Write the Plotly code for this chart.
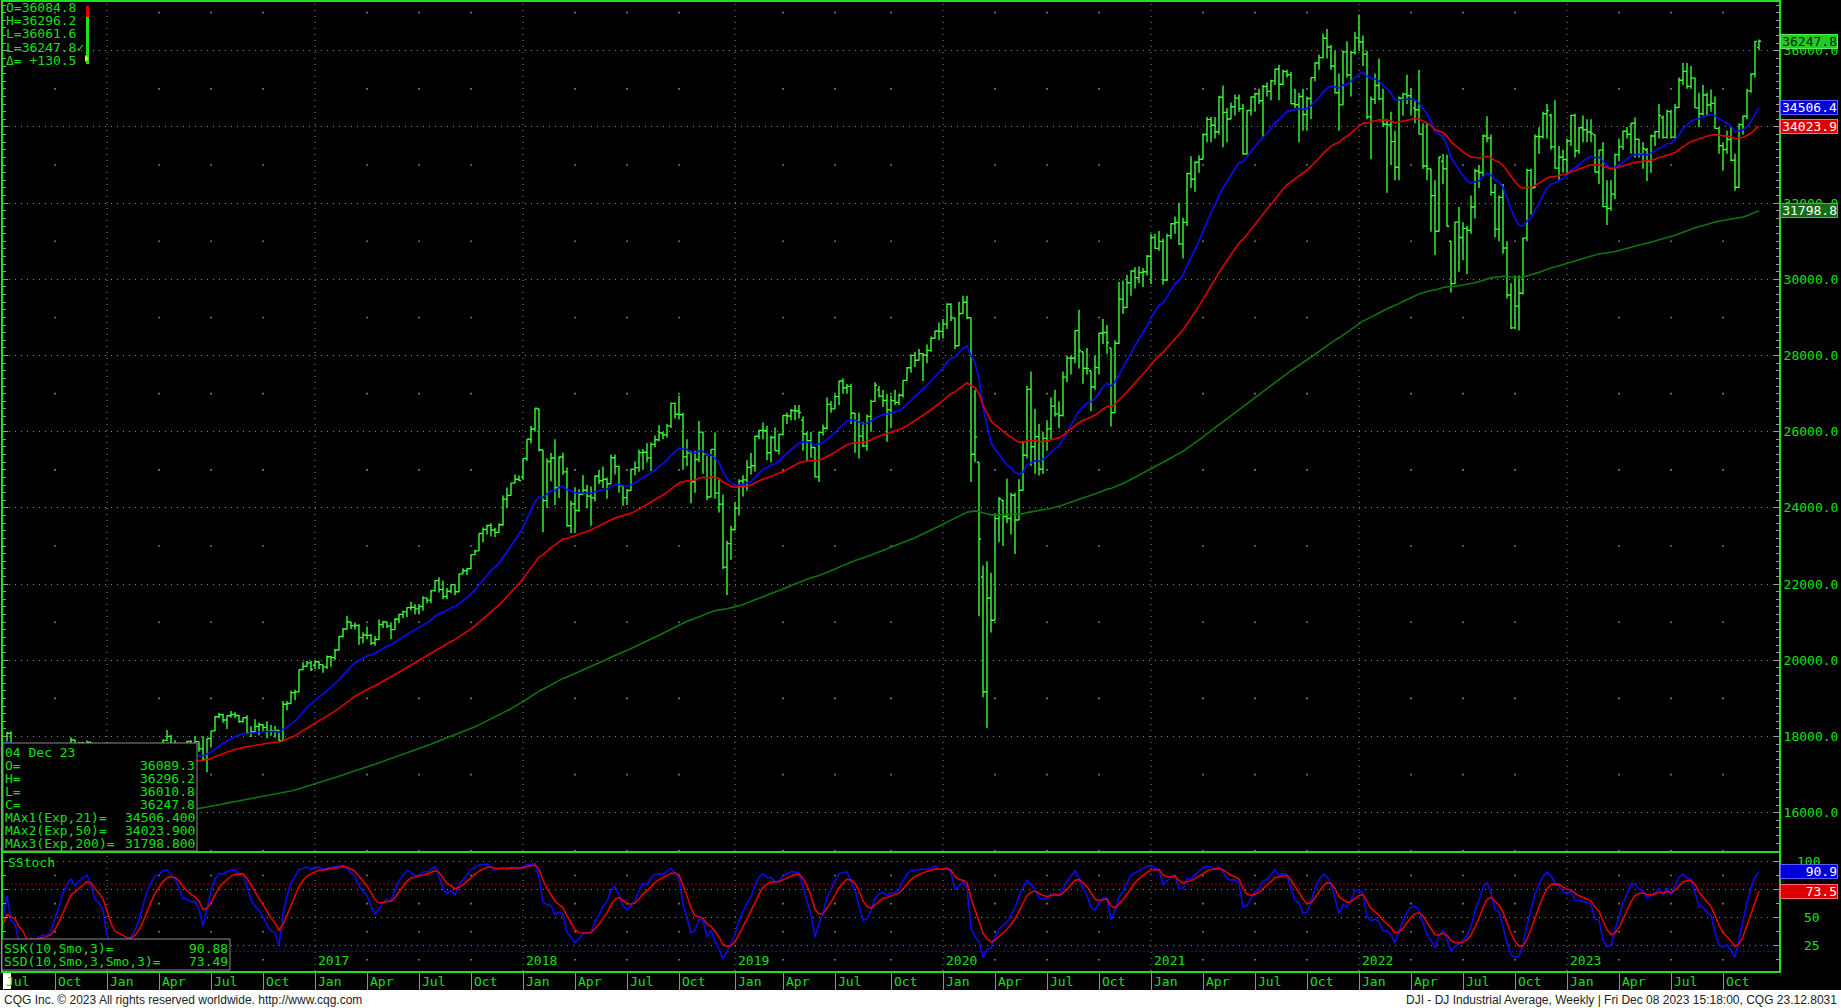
import numpy as np
import pandas as pd
import plotly.graph_objects as go

W, H = 1841, 1008

# ---------------- DATA (weekly DJI bars) ----------------
first_week = "2015-06-29"

opens = [
    # 2015
    17947, 17730, 17760, 18086, 17568, 17690, 17373, 17477, 16460, 16643, 16102, 16433, 16385, 16315, 16472, 17084,
    17216, 17646, 17664, 17910, 17245, 17824, 17798, 17848, 17265, 17128, 17552,
    # 2016
    17405, 16346, 15988, 16093, 16466, 16205, 15974, 16392, 16640, 17007, 17213, 17602, 17516, 17793, 17577, 17898,
    18004, 17774, 17740, 17535, 17501, 17873, 17807, 17865, 17675, 17400, 17949, 18147, 18517, 18571, 18432, 18544,
    18577, 18553, 18395, 18492, 18085, 18124, 18262, 18308, 18240, 18138, 18146, 18161, 17888, 18848, 18868, 19152,
    19171, 19757, 19843, 19934,
    # 2017
    19872, 19964, 19886, 19827, 20094, 20071, 20269, 20624, 20822, 21005, 20903, 20915, 20597, 20663, 20656, 20453,
    20548, 20941, 21007, 20897, 20805, 21080, 21206, 21272, 21384, 21395, 21350, 21414, 21638, 21580, 21830, 22092,
    21858, 21675, 21814, 21988, 21798, 22268, 22350, 22405, 22774, 22872, 23329, 23434, 23539, 23422, 23358, 23558,
    24231, 24329, 24652, 24754,
    # 2018
    24809, 25296, 25803, 26072, 26598, 25521, 24191, 25219, 25310, 24538, 25336, 24947, 23533, 24103, 23933, 24360,
    24463, 24311, 24263, 24831, 24715, 24753, 24635, 25317, 25090, 24581, 24271, 24456, 25019, 25058, 25451, 25463,
    25313, 25669, 25790, 25965, 25917, 26155, 26744, 26458, 26447, 25340, 25444, 24688, 25271, 25989, 25413, 24286,
    25538, 24389, 24101, 22445, 23062,
    # 2019
    23433, 23996, 24706, 24737, 25064, 25106, 25883, 26031, 26026, 25450, 25849, 25502, 25929, 26425, 26412, 26559,
    26543, 26300, 25942, 25764, 25586, 24815, 25984, 26090, 26719, 26600, 26922, 27332, 27154, 27192, 26485, 26287,
    25886, 25628, 26403, 26797, 27100, 26935, 26820, 26573, 26817, 26770, 26958, 27347, 27681, 28005, 27876, 28051,
    28015, 28135, 28455, 28645,
    # 2020
    28635, 28824, 29348, 28990, 28256, 29103, 29398, 28992, 25409, 25200, 22186, 19174, 21637, 21053, 23719, 24200,
    23775, 23724, 24331, 23685, 24465, 25383, 27111, 25606, 25871, 25016, 25827, 26075, 26672, 26470, 26428, 27433,
    27931, 27930, 28654, 28100, 27666, 27600, 27174, 27683, 28587, 28606, 28200, 26502, 28323, 29480, 29263, 29910,
    30218, 30046, 30179, 30200,
    # 2021
    30606, 31098, 30814, 30997, 29983, 31148, 31458, 31494, 30932, 31496, 32779, 32628, 33073, 33153, 33801, 34200,
    34043, 33875, 34778, 34382, 34208, 34529, 34756, 34480, 33290, 34434, 34786, 34870, 34688, 35062, 34935, 35209,
    35515, 35120, 35456, 35369, 34608, 34584, 34798, 34326, 34746, 35295, 35677, 35820, 36328, 36100, 35602, 34899,
    34580, 35971, 35365, 35951,
    # 2022
    36338, 36232, 35912, 34265, 34725, 35089, 34738, 34079, 34059, 33615, 32944, 34755, 34861, 34818, 34500, 34451,
    33811, 32977, 32899, 32197, 31262, 33100, 32899, 31000, 29888, 31501, 31097, 31338, 31288, 31899, 32845, 32803,
    33761, 33706, 32283, 31318, 32151, 30822, 29590, 28725, 29297, 29634, 31082, 32861, 32403, 33748, 33746, 34347,
    34300, 33477, 32920, 33203,
    # 2023
    33147, 33631, 34300, 33375, 33978, 33926, 33869, 33800, 32817, 33391, 31910, 31862, 32238, 33274, 33485, 33886,
    33809, 34098, 33674, 33300, 33400, 33093, 33762, 33877, 34250, 33727, 34400, 33734, 34509, 35228, 35459, 35066,
    35281, 34500, 34346, 34838, 34577, 34618, 33964, 33508, 33407, 33670, 33127, 32418, 34061, 34283, 34947, 35390,
    36089.3,
]

highs = [
    # 2015
    17947, 17800, 18120, 18137, 17750, 17730, 17640, 17540, 16670, 16650, 16660, 16930, 16530, 16480, 17100, 17220,
    17690, 17800, 17980, 17920, 17850, 17860, 17895, 17850, 17780, 17620, 17750,
    # 2016
    17405, 16600, 16100, 16486, 16520, 16250, 16460, 16690, 17070, 17220, 17620, 17620, 17800, 17800, 17930, 18168,
    18040, 17900, 17780, 17720, 17890, 17900, 18005, 17870, 18010, 17950, 18150, 18540, 18622, 18600, 18550, 18668,
    18640, 18570, 18500, 18560, 18270, 18450, 18365, 18330, 18400, 18300, 18280, 18180, 18935, 18935, 19200, 19225,
    19760, 19950, 19987, 19980,
    # 2017
    19999, 19990, 19890, 20125, 20120, 20298, 20639, 20840, 21169, 21010, 20990, 20950, 20740, 20890, 20700, 20630,
    21070, 21030, 21010, 21000, 21110, 21225, 21305, 21390, 21535, 21470, 21480, 21681, 21640, 21845, 22100, 22180,
    22090, 21900, 22000, 22000, 22270, 22420, 22420, 22780, 22900, 23330, 23485, 23560, 23600, 23480, 23600, 24327,
    24534, 24669, 24876, 24850,
    # 2018
    25300, 25804, 26153, 26617, 26609, 25530, 25300, 25440, 25800, 25350, 25450, 25060, 24190, 24540, 24490, 24860,
    24600, 24560, 24860, 25000, 25090, 24800, 25400, 25400, 25100, 24600, 24500, 25030, 25220, 25530, 25550, 25700,
    25720, 25900, 26170, 26000, 26200, 26770, 26770, 26951, 26500, 25800, 25500, 25500, 26280, 26000, 25420, 25540,
    25980, 24750, 24350, 23140, 23530,
    # 2019
    24150, 24750, 24860, 25250, 25440, 25900, 26050, 26240, 26156, 25900, 26110, 25950, 26430, 26500, 26600, 26700,
    26700, 26400, 26000, 26000, 25600, 26000, 26190, 26900, 26800, 26980, 27340, 27400, 27250, 27260, 26500, 26500,
    26250, 26450, 26840, 27300, 27200, 27100, 26990, 26950, 27100, 27000, 27350, 27700, 28030, 28090, 28175, 28070,
    28290, 28500, 28650, 28870,
    # 2020
    28960, 29374, 29370, 28990, 29410, 29570, 29568, 28995, 27100, 25200, 22486, 22600, 22300, 23860, 24280, 24210,
    24765, 24400, 24400, 24750, 25760, 27200, 27580, 26600, 26200, 26000, 26300, 26900, 27100, 26800, 27580, 28000,
    28000, 28660, 29200, 28100, 28200, 27600, 28000, 28600, 28960, 28800, 28200, 28400, 29933, 29960, 30116, 30230,
    30320, 30340, 30300, 30640,
    # 2021
    31200, 31200, 31270, 31070, 31200, 31480, 31650, 32010, 31620, 32800, 33230, 33100, 33260, 33830, 34260, 34260,
    34260, 34820, 35090, 34500, 34640, 34850, 34850, 34600, 34440, 34800, 34900, 35000, 35100, 35170, 35240, 35530,
    35630, 35500, 35500, 35440, 35000, 34900, 35000, 34800, 35300, 35700, 35900, 36450, 36570, 36150, 36000, 35400,
    36000, 36250, 36000, 36500,
    # 2022
    36952, 36400, 36000, 34800, 35400, 35800, 35000, 34200, 34400, 33900, 34800, 34900, 35370, 35000, 34700, 35500,
    34100, 34100, 32900, 32600, 33213, 33300, 33270, 31000, 31520, 31900, 31500, 31400, 32200, 32900, 33000, 33800,
    34280, 33800, 32500, 32200, 32500, 31000, 29900, 30100, 30100, 31100, 32900, 32900, 33800, 33990, 34400, 34600,
    34350, 34700, 33500, 33400,
    # 2023
    33700, 34320, 34350, 34000, 34300, 34200, 34200, 33800, 33400, 33600, 32600, 32600, 33300, 33700, 33900, 34000,
    34100, 34250, 33700, 33600, 33450, 33800, 33900, 34600, 34300, 34450, 34450, 34600, 35300, 35680, 35680, 35600,
    35300, 34900, 35100, 34900, 34980, 34800, 34000, 33600, 33900, 34000, 33300, 34100, 34300, 35000, 35400, 36260,
    36296.2,
]

lows = [
    # 2015
    17575, 17465, 17760, 17555, 17400, 17330, 17170, 16450, 15370, 16000, 16100, 16330, 16000, 15940, 16470, 16850,
    17080, 17480, 17640, 17240, 17210, 17700, 17460, 17260, 17128, 17120, 17410,
    # 2016
    16300, 15840, 15450, 15880, 16000, 15503, 15970, 16170, 16510, 16820, 17180, 17420, 17440, 17480, 17480, 17880,
    17700, 17630, 17520, 17330, 17480, 17680, 17800, 17600, 17360, 17060, 17710, 18140, 18480, 18360, 18200, 18500,
    18480, 18360, 18370, 18080, 17990, 18120, 18030, 18140, 17960, 18020, 17970, 17880, 17880, 18690, 18860, 18950,
    19170, 19740, 19840, 19720,
    # 2017
    19775, 19775, 19677, 19770, 19830, 20000, 20260, 20600, 20800, 20820, 20810, 20410, 20450, 20550, 20400, 20380,
    20540, 20850, 20850, 20550, 20800, 20970, 21110, 21140, 21310, 21200, 21200, 21300, 21500, 21500, 21800, 21780,
    21600, 21600, 21770, 21710, 21790, 22260, 22240, 22400, 22760, 22870, 23100, 23300, 23250, 23240, 23350, 23530,
    24000, 24320, 24650, 24710,
    # 2018
    24741, 25237, 25700, 26000, 25490, 23360, 24000, 24700, 24080, 24260, 24870, 23510, 23340, 23340, 23900, 24350,
    23990, 23530, 24170, 24630, 24520, 24240, 24630, 24880, 24400, 24060, 24080, 24450, 24860, 24950, 25000, 25200,
    24970, 25600, 25750, 25800, 25850, 26100, 26340, 26320, 25000, 25100, 24120, 24400, 25200, 24900, 24200, 24280,
    24240, 23880, 22400, 21712, 22640,
    # 2019
    23400, 23800, 24300, 24450, 24880, 24950, 25800, 25800, 25250, 25200, 25500, 25400, 25900, 26200, 26300, 26300,
    26350, 25500, 25220, 25320, 24800, 24680, 25900, 26050, 26500, 26600, 26700, 27000, 27000, 26200, 25450, 25300,
    25600, 25500, 26000, 26790, 26900, 26650, 25740, 26100, 26700, 26700, 26900, 27340, 27550, 27700, 27870, 27330,
    27800, 28100, 28450, 28400,
    # 2020
    28450, 28700, 28900, 28170, 28250, 29100, 28950, 24681, 25200, 21154, 19029, 18214, 20730, 21050, 23100, 23000,
    23600, 23300, 22790, 23680, 24450, 25300, 25100, 24900, 24850, 24900, 25500, 25800, 26400, 26100, 26400, 27300,
    27500, 27800, 27660, 27260, 27500, 26540, 27100, 27500, 28300, 28050, 26140, 26500, 28300, 29100, 29250, 29570,
    29760, 29900, 29800, 30100,
    # 2021
    29880, 30800, 30750, 29860, 29950, 31060, 31200, 30900, 30550, 31400, 32400, 32300, 32800, 33150, 33600, 33600,
    33700, 33800, 33470, 33600, 34200, 34300, 34400, 33270, 33270, 34300, 34400, 34600, 33740, 34800, 34700, 35100,
    34700, 35100, 35300, 34600, 34500, 33600, 33900, 33900, 34200, 35200, 35500, 35800, 35800, 35500, 34880, 33900,
    34570, 35300, 34800, 35900,
    # 2022
    36000, 35600, 34200, 33150, 34600, 34700, 34000, 32272, 33000, 32600, 32600, 34300, 34600, 34300, 34100, 33800,
    32900, 32600, 31250, 30640, 31250, 32500, 31390, 29653, 29880, 30200, 30500, 30140, 31200, 31600, 32400, 32700,
    33600, 32200, 31100, 31000, 30670, 29500, 28700, 28700, 28660, 29600, 31000, 31700, 32400, 33300, 33700, 33700,
    33400, 32900, 32600, 32800,
    # 2023
    32800, 33500, 33200, 33300, 33600, 33600, 33600, 32800, 32500, 31900, 31429, 31800, 32100, 33100, 33400, 33700,
    33300, 33200, 33200, 32900, 32580, 32800, 33500, 33700, 33700, 33700, 33700, 33700, 34500, 35100, 35000, 35000,
    34500, 34000, 34300, 34300, 34400, 33950, 33300, 32850, 33300, 33100, 32327, 32400, 33800, 34200, 34900, 35300,
    36010.8,
]

closes = [
    # 2015
    17730, 17760, 18086, 17568, 17690, 17373, 17477, 16460, 16643, 16102, 16433, 16385, 16315, 16472, 17084, 17216,
    17646, 17664, 17910, 17245, 17824, 17798, 17848, 17265, 17128, 17552, 17425,
    # 2016
    16346, 15988, 16093, 16466, 16205, 15974, 16392, 16640, 17007, 17213, 17602, 17516, 17793, 17577, 17898, 18004,
    17774, 17740, 17535, 17501, 17873, 17807, 17865, 17675, 17400, 17949, 18147, 18517, 18571, 18432, 18544, 18577,
    18553, 18395, 18492, 18085, 18124, 18262, 18308, 18240, 18138, 18146, 18161, 17888, 18848, 18868, 19152, 19171,
    19757, 19843, 19934, 19763,
    # 2017
    19964, 19886, 19827, 20094, 20071, 20269, 20624, 20822, 21005, 20903, 20915, 20597, 20663, 20656, 20453, 20548,
    20941, 21007, 20897, 20805, 21080, 21206, 21272, 21384, 21395, 21350, 21414, 21638, 21580, 21830, 22092, 21858,
    21675, 21814, 21988, 21798, 22268, 22350, 22405, 22774, 22872, 23329, 23434, 23539, 23422, 23358, 23558, 24231,
    24329, 24652, 24754, 24719,
    # 2018
    25296, 25803, 26072, 26617, 25521, 24191, 25219, 25310, 24538, 25336, 24947, 23533, 24103, 23933, 24360, 24463,
    24311, 24263, 24831, 24715, 24753, 24635, 25317, 25090, 24581, 24271, 24456, 25019, 25058, 25451, 25463, 25313,
    25669, 25790, 25965, 25917, 26155, 26744, 26458, 26447, 25340, 25444, 24688, 25271, 25989, 25413, 24286, 25538,
    24389, 24101, 22445, 23062, 23433,
    # 2019
    23996, 24706, 24737, 25064, 25106, 25883, 26031, 26026, 25450, 25849, 25502, 25929, 26425, 26412, 26559, 26543,
    26505, 25942, 25764, 25586, 24815, 25984, 26090, 26719, 26600, 26922, 27332, 27154, 27192, 26485, 26287, 25886,
    25628, 26403, 26797, 27220, 26935, 26820, 26573, 26817, 26770, 26958, 27347, 27681, 28005, 27876, 28051, 28015,
    28135, 28455, 28645, 28635,
    # 2020
    28824, 29348, 28990, 28256, 29103, 29398, 28992, 25409, 25865, 23186, 19174, 21637, 21053, 23719, 24242, 23775,
    23724, 24331, 23685, 24465, 25383, 27111, 25606, 25871, 25016, 25827, 26075, 26672, 26470, 26428, 27433, 27931,
    27930, 28654, 28133, 27666, 27657, 27174, 27683, 28587, 28606, 28336, 26502, 28323, 29480, 29263, 29910, 30218,
    30046, 30179, 30200, 30606,
    # 2021
    31098, 30814, 30997, 29983, 31148, 31458, 31494, 30932, 31496, 32779, 32628, 33073, 33153, 33801, 34200, 34043,
    33875, 34778, 34382, 34208, 34529, 34756, 34480, 33290, 34434, 34786, 34870, 34688, 35062, 34935, 35209, 35515,
    35120, 35456, 35369, 34608, 34584, 34798, 34326, 34746, 35295, 35677, 35820, 36328, 36100, 35602, 34899, 34580,
    35971, 35365, 35951, 36338,
    # 2022
    36232, 35912, 34265, 34725, 35089, 34738, 34079, 34059, 33615, 32944, 34755, 34861, 34818, 34721, 34451, 33811,
    32977, 32899, 32197, 31262, 33213, 32899, 31393, 29888, 31501, 31097, 31338, 31288, 31899, 32845, 32803, 33761,
    33706, 32283, 31318, 32151, 30822, 29590, 28725, 29297, 29634, 31082, 32861, 32403, 33748, 33746, 34347, 34430,
    33477, 32920, 33203, 33147,
    # 2023
    33631, 34303, 33375, 33978, 33926, 33869, 33827, 32817, 33391, 31910, 31862, 32238, 33274, 33485, 33886, 33809,
    34098, 33674, 33300, 33427, 33093, 33762, 33877, 34299, 33727, 34408, 33734, 34509, 35228, 35459, 35066, 35281,
    34500, 34346, 34838, 34577, 34618, 33964, 33508, 33407, 33670, 33127, 32418, 34061, 34283, 34947, 35390, 36246,
    36247.8,
]

assert len(opens) == len(highs) == len(lows) == len(closes), (len(opens), len(highs), len(lows), len(closes))

# moving-average definitions and their starting values read at the left edge
ema_periods = [21, 50, 200]
ema_seeds = [17850, 17650, 15350]
stoch_period, stoch_smooth = 10, 3

# readouts shown on the chart
last_bar_label = "04 Dec 23"
last_bar = {"O": "36089.3", "H": "36296.2", "L": "36010.8", "C": "36247.8"}
ma_labels = ["MAx1(Exp,21)=", "MAx2(Exp,50)=", "MAx3(Exp,200)="]
ma_values = [34506.4, 34023.9, 31798.8]
last_close = 36247.8
top_readout = ["O=36084.8", "H=36296.2", "L=36061.6", "L=36247.8\u2713", "\u0394= +130.5"]
ssk_value, ssd_value = 90.88, 73.49
price_ticks = list(range(16000, 36001, 2000))
stoch_ticks = [25, 50, 75, 100]
month_names = {1: "Jan", 4: "Apr", 7: "Jul", 10: "Oct"}
footer_left = "CQG Inc. \u00a9 2023 All rights reserved worldwide. http://www.cqg.com"
footer_right = "DJI - DJ Industrial Average, Weekly | Fri Dec 08 2023 15:18:00, CQG 23.12.8031"

# ---------------- derived series ----------------
n = len(closes)
dates = pd.date_range(first_week, periods=n, freq="7D")
c = np.array(closes, float)
h = np.array(highs, float)
l = np.array(lows, float)


def ema(values, period, seed):
    a = 2.0 / (period + 1)
    out, prev = [], seed
    for v in values:
        prev = prev + a * (v - prev)
        out.append(prev)
    return np.array(out)


def smo(x, p):
    out = np.empty(len(x))
    out[0] = x[0]
    for t in range(1, len(x)):
        out[t] = out[t - 1] + (x[t] - out[t - 1]) / p
    return out


emas = [ema(c, p, s) for p, s in zip(ema_periods, ema_seeds)]
hh = pd.Series(h).rolling(stoch_period, min_periods=1).max().values
ll = pd.Series(l).rolling(stoch_period, min_periods=1).min().values
ssk = 100 * smo(c - ll, stoch_smooth) / smo(hh - ll, stoch_smooth)
ssd = smo(ssk, stoch_smooth)

# quarter ticks: first weekly bar of Jan/Apr/Jul/Oct
qdates = []
for k, d in enumerate(dates):
    if d.month in month_names and (k == 0 or dates[k - 1].month != d.month):
        qdates.append(d)
year_dates = [d for d in qdates if d.month == 1]

# ---------------- styling ----------------
GREEN = "#16e016"
BAR = "#36ff36"
FRAME = "#1fe01f"
GRID = "#8a8a8a"
MONO = "DejaVu Sans Mono"
DOT = "1px,5px"


def px_x(p):
    return p / W


def px_y(p):
    return 1 - p / H


x_left = dates[0] + pd.Timedelta(days=7)
x_right = dates[-1] + pd.Timedelta(days=35)
main_range = [14995, 37280]
stoch_range = [2.5, 107.6]

fig = go.Figure()

# grid dots at half-levels on quarter lines
qd_nj = [d for d in qdates if d.month != 1]
dot_levels = list(range(15000, 37001, 2000))
fig.add_trace(go.Scatter(
    x=[d for d in qd_nj for _ in dot_levels], y=[v for _ in qd_nj for v in dot_levels],
    mode="markers", marker=dict(size=1.6, color=GRID, symbol="square"), hoverinfo="skip",
    xaxis="x", yaxis="y"))
sdot_levels = [12.5, 37.5, 62.5, 87.5]
fig.add_trace(go.Scatter(
    x=[d for d in qd_nj for _ in sdot_levels], y=[v for _ in qd_nj for v in sdot_levels],
    mode="markers", marker=dict(size=1.6, color=GRID, symbol="square"), hoverinfo="skip",
    xaxis="x2", yaxis="y2"))

fig.add_trace(go.Ohlc(
    x=dates, open=opens, high=highs, low=lows, close=closes,
    increasing=dict(line=dict(color=BAR, width=1.4)),
    decreasing=dict(line=dict(color=BAR, width=1.4)),
    tickwidth=0.5, hoverinfo="skip", xaxis="x", yaxis="y"))

for series, col in zip(emas, ["#0a0aff", "#e00000", "#0f730f"]):
    fig.add_trace(go.Scatter(x=dates, y=series, mode="lines", line=dict(color=col, width=1.6),
                             hoverinfo="skip", xaxis="x", yaxis="y"))

fig.add_trace(go.Scatter(x=dates, y=ssk, mode="lines", line=dict(color="#0a0aff", width=1.5),
                         hoverinfo="skip", xaxis="x2", yaxis="y2"))
fig.add_trace(go.Scatter(x=dates, y=ssd, mode="lines", line=dict(color="#ee0000", width=1.5),
                         hoverinfo="skip", xaxis="x2", yaxis="y2"))

shapes = []
# year gridlines
for d in year_dates:
    shapes.append(dict(type="line", xref="x", yref="y domain", x0=d, x1=d, y0=0, y1=1,
                       line=dict(color=GRID, width=1, dash=DOT), layer="below"))
    shapes.append(dict(type="line", xref="x2", yref="y2 domain", x0=d, x1=d, y0=0, y1=1,
                       line=dict(color=GRID, width=1, dash=DOT), layer="below"))
# stochastic reference levels
shapes.append(dict(type="line", xref="x2 domain", yref="y2", x0=0, x1=1, y0=80, y1=80,
                   line=dict(color="#a00000", width=1, dash="2px,2px"), layer="below"))
shapes.append(dict(type="line", xref="x2 domain", yref="y2", x0=0, x1=1, y0=20, y1=20,
                   line=dict(color="#1010d0", width=1, dash="2px,2px"), layer="below"))


def rect(x0, y0, x1, y1, fill, line=None, lw=0):
    return dict(type="rect", xref="paper", yref="paper", x0=px_x(x0), x1=px_x(x1),
                y0=px_y(y1), y1=px_y(y0), fillcolor=fill,
                line=dict(color=line or fill, width=lw), layer="above")


# info box and stoch box
shapes.append(rect(3, 743, 197, 851, "black", "#8c8c8c", 1))
shapes.append(rect(2, 939, 230, 970, "black", "#8c8c8c", 1))
# mini range indicator in the top-left readout
shapes.append(rect(86, 6, 89, 64, "#1ee01e"))
shapes.append(rect(86, 6, 89, 17, "#e00000"))
shapes.append(dict(type="path", xref="paper", yref="paper",
                   path=f"M {px_x(85)} {px_y(55)} L {px_x(89)} {px_y(58.5)} L {px_x(85)} {px_y(62)} Z",
                   fillcolor="#f0f000", line=dict(width=0), layer="above"))
# footer strip and small white marker in the date row
shapes.append(rect(0, 990, W, H, "white"))
shapes.append(rect(3, 973, 11, 989, "white"))

ann = []


def A(text, x, y, xanchor="left", color=GREEN, size=13, xref="paper", yref="paper", family=MONO, **kw):
    d = dict(text=text, x=x, y=y, xref=xref, yref=yref, xanchor=xanchor, yanchor="middle",
             showarrow=False, font=dict(family=family, size=size, color=color))
    d.update(kw)
    return d


# top-left readout
for k, t in enumerate(top_readout):
    ann.append(A(t, px_x(4), px_y(7.5 + 13.2 * k)))

# info box lines
ys = [752 + 13.05 * k for k in range(8)]
ann.append(A(last_bar_label, px_x(3), px_y(ys[0])))
for k, key in enumerate(["O", "H", "L", "C"]):
    ann.append(A(key + "=", px_x(3), px_y(ys[k + 1])))
    ann.append(A(last_bar[key], px_x(197), px_y(ys[k + 1]), xanchor="right"))
for k, (lab, val) in enumerate(zip(ma_labels, ma_values)):
    ann.append(A(lab, px_x(3), px_y(ys[k + 5])))
    ann.append(A(f"{val:.3f}", px_x(197), px_y(ys[k + 5]), xanchor="right"))

# stochastic labels
ann.append(A("SStoch", px_x(6), px_y(862)))
ann.append(A("SSK(10,Smo,3)=", px_x(2), px_y(948)))
ann.append(A(f"{ssk_value:.2f}", px_x(230), px_y(948), xanchor="right"))
ann.append(A("SSD(10,Smo,3,Smo,3)=", px_x(2), px_y(961.5)))
ann.append(A(f"{ssd_value:.2f}", px_x(230), px_y(961.5), xanchor="right"))
for v in stoch_ticks:
    ann.append(A(str(v), px_x(1822), v, xanchor="right", yref="y2"))

# month & year labels
for d in qdates:
    ann.append(A(month_names[d.month], d, px_y(981), xref="x2", xshift=1))
for d in year_dates:
    if d.year >= 2017:
        ann.append(A(str(d.year), d, px_y(960), xref="x2", xshift=1))


# value tags on the right axis
def tag(text, y, yref, bg, border, fg):
    return A(text, px_x(1838), y, xanchor="right", yref=yref, color=fg, bgcolor=bg,
             bordercolor=border, borderwidth=1, borderpad=0, width=56, height=13, align="right")


ann.append(tag(f"{last_close:.1f}", last_close, "y", "#22cc22", "#55ee55", "#002200"))
ann.append(tag(f"{ma_values[0]:.1f}", ma_values[0], "y", "#0000dd", "#5a5aff", "white"))
ann.append(tag(f"{ma_values[1]:.1f}", ma_values[1], "y", "#dd0000", "#ff6a6a", "white"))
ann.append(tag(f"{ma_values[2]:.1f}", ma_values[2], "y", "#146e14", "#5aa65a", "white"))
ann.append(tag(f"{ssk_value:.1f}", ssk_value, "y2", "#0000dd", "#5a5aff", "white"))
ann.append(tag(f"{ssd_value:.1f}", ssd_value, "y2", "#dd0000", "#ff6a6a", "white"))

# footer
SANS = "Liberation Sans Narrow, Arial Narrow, Liberation Sans, Arial"
ann.append(A(footer_left, px_x(2), px_y(999.5), color="#222222", size=12, family=SANS))
ann.append(A(footer_right, px_x(1839), px_y(999.5), xanchor="right", color="#222222", size=12, family=SANS))

fig.update_layout(
    width=W, height=H, margin=dict(l=0, r=0, t=0, b=0),
    paper_bgcolor="black", plot_bgcolor="black", showlegend=False, hovermode=False,
    shapes=shapes, annotations=ann,
    xaxis=dict(domain=[px_x(3), px_x(1779)], range=[x_left, x_right], type="date",
               rangeslider=dict(visible=False), showgrid=False, showticklabels=False, ticks="",
               showline=True, mirror=True, linecolor=FRAME, linewidth=2, zeroline=False, anchor="y"),
    yaxis=dict(domain=[px_y(851), px_y(2)], range=main_range, side="right", anchor="x",
               tickvals=price_ticks, ticktext=[f"{v:.1f}" for v in price_ticks],
               tickfont=dict(family=MONO, size=13, color=GREEN),
               ticks="inside", ticklen=5, tickcolor="#9a9a9a", tickwidth=1,
               minor=dict(dtick=200, ticks="inside", ticklen=3, tickcolor="#9a9a9a", showgrid=False),
               showgrid=True, gridcolor=GRID, griddash=DOT, gridwidth=1,
               showline=True, mirror="ticks", linecolor=FRAME, linewidth=2, zeroline=False),
    xaxis2=dict(domain=[px_x(3), px_x(1779)], matches="x", type="date", anchor="y2",
                tickvals=qdates, showticklabels=False, ticks="outside", ticklen=18,
                tickcolor=FRAME, tickwidth=1, showgrid=False,
                showline=True, mirror=True, linecolor=FRAME, linewidth=2, zeroline=False),
    yaxis2=dict(domain=[px_y(971), px_y(853)], range=stoch_range, side="right", anchor="x2",
                tickvals=stoch_ticks, showticklabels=False,
                ticks="inside", ticklen=5, tickcolor="#9a9a9a",
                minor=dict(dtick=12.5, ticks="inside", ticklen=3, tickcolor="#9a9a9a", showgrid=False),
                showgrid=True, gridcolor=GRID, griddash=DOT, gridwidth=1,
                showline=True, mirror="ticks", linecolor=FRAME, linewidth=2, zeroline=False),
)

fig.write_html(
    "out.html",
    config={"displayModeBar": False},
    post_script="document.body.style.margin='0';document.body.style.overflow='hidden';",
)
